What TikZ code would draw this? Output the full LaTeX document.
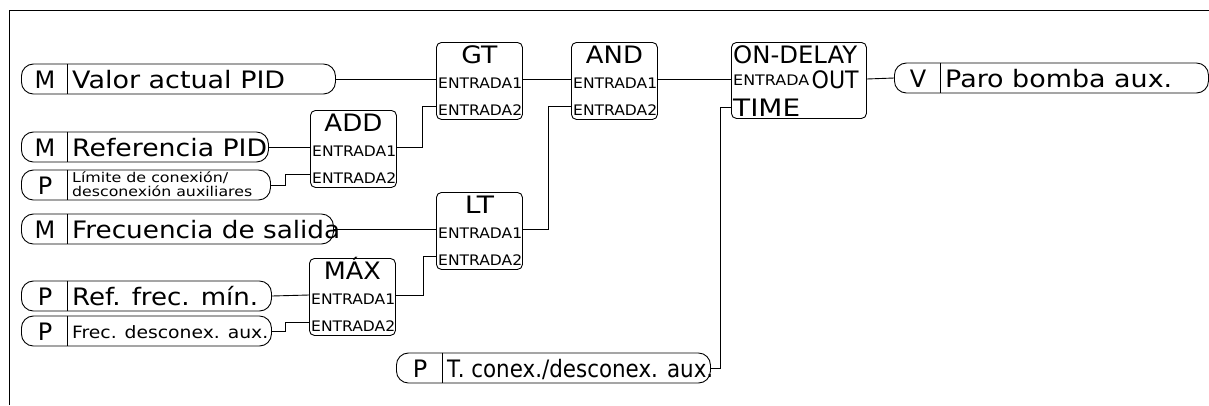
\documentclass[tikz,border=0pt]{standalone}
\usepackage{fontspec}
\setmainfont{DejaVu Sans}
\usepackage{graphicx}
\usepackage{tikz}
\usetikzlibrary{
  positioning,
  calc
}
\newcommand{\bigf}{\fontsize{24}{26}\selectfont}
\newcommand{\portf}{\fontsize{14.5}{15}\selectfont}
% stretch a text to a given width (pt), keeping its height
\newcommand{\fitw}[2]{\resizebox{#1pt}{\height}{#2}}
\tikzset{
    wire/.style={line width=0.9pt},
    pill/.style={draw, line width=0.9pt, rounded corners=12pt, minimum height=30, inner sep=0pt},
    gatebox/.style={draw, line width=0.9pt, rounded corners=5pt, minimum width=86, minimum height=77, inner sep=0pt, anchor=north west},
    gatetitle/.style={font=\bigf, anchor=base, inner sep=0pt},
    portlbl/.style={font=\portf, anchor=base west, inner sep=0pt}
}
% signal pill: name, left x, centre y, width, letter, text, font, baseline drop
\newcommand{\sigpill}[8]{%
  \node[pill, minimum width=#4, anchor=west] (#1) at (#2,#3) {};
  \draw[wire] ([xshift=46]#1.north west) -- ([xshift=46]#1.south west);
  \node[font=\bigf, anchor=base, inner sep=0pt] at ([xshift=24,yshift=-9]#1.west) {#5};
  \node[font=#7, anchor=base west, inner sep=0pt, align=left] at ([xshift=51,yshift=-#8]#1.west) {#6};
}

\begin{document}
\begin{tikzpicture}[x=1pt, y=-1pt]
    \useasboundingbox (0,0) rectangle (1209,405);
    \draw[line width=0.9pt] (9,405) -- (9,10) -- (1209,10);

    % inputs and output
    \sigpill{valor}{21}{79}{314}{M}{\fitw{213}{Valor actual PID}}{\bigf}{9}
    \sigpill{ref}{21}{147}{247}{M}{\fitw{195}{Referencia PID}}{\bigf}{9}
    \sigpill{lim}{21}{185}{249}{P}{\fitw{156}{L\'imite de conexi\'on/}\\\fitw{180}{desconexi\'on auxiliares}}{\fontsize{13.5}{11}\selectfont}{11}
    \sigpill{frec}{21}{229}{312}{M}{\fitw{268}{Frecuencia de salida}}{\bigf}{9}
    \sigpill{refmin}{21}{296}{250}{P}{\fitw{186}{Ref. frec. m\'in.}}{\bigf}{9}
    \sigpill{frecdes}{21}{331}{250}{P}{\fitw{196}{Frec. desconex. aux.}}{\fontsize{17}{18}\selectfont}{7}
    \sigpill{tcon}{396}{368}{314}{P}{\fitw{266}{T. conex./desconex. aux.}}{\bigf}{9}
    \sigpill{paro}{894}{78}{314}{V}{\fitw{227}{Paro bomba aux.}}{\bigf}{9}

    % gates
    \node[gatebox] (gt) at (436,42) {};
    \node[gatebox] (and) at (571,42) {};
    \node[gatebox] (add) at (310,110) {};
    \node[gatebox] (lt) at (436,192) {};
    \node[gatebox] (max) at (309,258) {};
    \node[gatebox, minimum width=135, minimum height=76] (od) at (731,42) {};

    \node[gatetitle] at ([yshift=-21]gt.north) {\fitw{36}{GT}};
    \node[gatetitle] at ([yshift=-21]and.north) {\fitw{57}{AND}};
    \node[gatetitle] at ([yshift=-21]add.north) {\fitw{58}{ADD}};
    \node[gatetitle] at ([yshift=-21]lt.north) {\fitw{29}{LT}};
    \node[gatetitle] at ([yshift=-21]max.north) {\fitw{57}{M\'AX}};

    \foreach \g in {gt, and, add, lt, max} {
        \coordinate (\g-i1) at ($(\g.north west)+(0,37)$);
        \coordinate (\g-i2) at ($(\g.north west)+(0,64)$);
        \coordinate (\g-o) at (\g.east |- \g-i1);
        \node[portlbl] at ([xshift=2,yshift=-9]\g-i1) {\fitw{84}{ENTRADA1}};
        \node[portlbl] at ([xshift=2,yshift=-9]\g-i2) {\fitw{84}{ENTRADA2}};
    }

    \coordinate (od-i1) at ($(od.north west)+(0,37)$);
    \coordinate (od-i2) at ($(od.north west)+(0,65)$);
    \coordinate (od-o) at (od.east |- od-i1);
    \node[font=\bigf, anchor=base west, inner sep=0pt] at ([xshift=2,yshift=-21]od.north west) {\fitw{124}{ON-DELAY}};
    \node[portlbl] at ([xshift=2,yshift=-6]od-i1) {\fitw{76}{ENTRADA}};
    \node[font=\bigf, anchor=base east, inner sep=0pt] at ([xshift=-8,yshift=-9]od-o) {\fitw{47}{OUT}};
    \node[font=\bigf, anchor=base west, inner sep=0pt] at ([xshift=2,yshift=-9]od-i2) {\fitw{67}{TIME}};

    % connections
    \draw[wire] (valor.east) -- (gt-i1);
    \draw[wire] (gt-o) -- (and-i1);
    \draw[wire] (and-o) -- (od-i1);
    \draw[wire] (od-o) -- (paro.west);
    \draw[wire] (ref.east) -- (add-i1);
    \draw[wire] (lim.east) -- ++(15,0) |- (add-i2);
    \draw[wire] (add-o) -- ++(26,0) |- (gt-i2);
    \draw[wire] (frec.east) -- (lt-i1);
    \draw[wire] (lt-o) -- ++(26,0) |- (and-i2);
    \draw[wire] (refmin.east) -- (max-i1);
    \draw[wire] (frecdes.east) -- ++(14,0) |- (max-i2);
    \draw[wire] (max-o) -- ++(28,0) |- (lt-i2);
    \draw[wire] (tcon.east) -- ++(10,0) |- (od-i2);
\end{tikzpicture}
\end{document}
